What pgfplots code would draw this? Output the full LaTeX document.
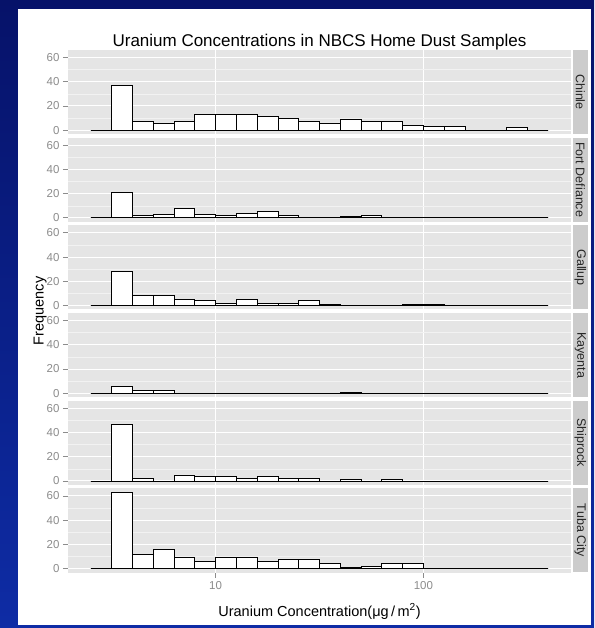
\documentclass[border=0pt]{standalone}
\usepackage{fontspec}
\setmainfont{Liberation Sans}
\usepackage{pgfplots}
\usepackage{pgfplotstable}
\pgfplotsset{compat=1.18}
\definecolor{panelgrey}{HTML}{E5E5E5}
\definecolor{gridminor}{HTML}{F2F2F2}
\definecolor{stripgrey}{HTML}{CCCCCC}
\definecolor{tickgrey}{HTML}{8C8C8C}
\definecolor{striptext}{HTML}{262626}
\definecolor{bgtop}{RGB}{6,18,105}
\definecolor{bgbot}{RGB}{14,44,165}

\pgfplotstableread{
edge Chinle Fort Gallup Kayenta Shiprock Tuba
0.4 0 0 0 0 0 0
0.5 37 21 28 6 47 63
0.6 7 2 8 2 2 12
0.7 6 3 8 2 0 16
0.8 7 8 5 0 5 9
0.9 13 3 4 0 4 6
1.0 13 2 2 0 4 9
1.1 13 4 5 0 2 9
1.2 11 5 2 0 4 6
1.3 10 2 2 0 2 8
1.4 7 0 4 0 2 8
1.5 6 0 1 0 0 4
1.6 9 1 0 1 1 1
1.7 7 2 0 0 0 2
1.8 7 0 0 0 1 4
1.9 4 0 1 0 0 4
2.0 3 0 1 0 0 0
2.1 3 0 0 0 0 0
2.2 0 0 0 0 0 0
2.3 0 0 0 0 0 0
2.4 2 0 0 0 0 0
2.5 0 0 0 0 0 0
2.6 0 0 0 0 0 0
}\datatable

\pgfplotsset{
  panel/.style={
    scale only axis, width=503pt, height=84pt,
    anchor=north west,
    xmin=0.29, xmax=2.71, ymin=-3.15, ymax=66.15,
    axis background/.style={fill=panelgrey},
    axis line style={draw=none},
    xtick={1,2}, ytick={0,20,40,60}, minor ytick={10,30,50},
    grid=both,
    major grid style={white, line width=1pt},
    minor grid style={gridminor, line width=0.5pt},
    tick align=outside, tick pos=left,
    major tick length=5pt, minor tick length=0pt,
    tick style={tickgrey, line width=0.8pt},
    tick label style={font=\fontsize{11.5}{13}\selectfont, text=tickgrey},
    /pgf/number format/assume math mode=true,
    clip=false,
  },
  bars/.style={ybar interval, fill=white, draw=black, line width=0.8pt},
  base/.style={black, line width=0.8pt},
}

\newcommand{\strip}[2]{%
  \fill[stripgrey] (572.5,#1) rectangle (588,#1-84);
  \node[rotate=-90, font=\fontsize{12.5}{14}\selectfont, text=striptext] at (580.25,#1-42) {#2};
}

\begin{document}
\begin{tikzpicture}[x=1pt,y=1pt]
\useasboundingbox (0,0) rectangle (594,628);
\shade[top color=bgtop, bottom color=bgbot] (0,0) rectangle (594,628);
\fill[white] (18,3) rectangle (591,619);

\node[anchor=base, font=\fontsize{17}{20}\selectfont] at (319.5,581.3) {Uranium Concentrations in NBCS Home Dust Samples};

\begin{axis}[panel, at={(68pt,578pt)}, xticklabels={}, xmajorticks=false]
\addplot[bars] table[x=edge, y=Chinle] {\datatable};
\addplot[base] coordinates {(0.4,0) (2.6,0)};
\end{axis}
\strip{578}{Chinle}

\begin{axis}[panel, at={(68pt,490.3pt)}, xticklabels={}, xmajorticks=false]
\addplot[bars] table[x=edge, y=Fort] {\datatable};
\addplot[base] coordinates {(0.4,0) (2.6,0)};
\end{axis}
\strip{490.3}{Fort Defiance}

\begin{axis}[panel, at={(68pt,402.6pt)}, xticklabels={}, xmajorticks=false]
\addplot[bars] table[x=edge, y=Gallup] {\datatable};
\addplot[base] coordinates {(0.4,0) (2.6,0)};
\end{axis}
\strip{402.6}{Gallup}

\begin{axis}[panel, at={(68pt,314.9pt)}, xticklabels={}, xmajorticks=false]
\addplot[bars] table[x=edge, y=Kayenta] {\datatable};
\addplot[base] coordinates {(0.4,0) (2.6,0)};
\end{axis}
\strip{314.9}{Kayenta}

\begin{axis}[panel, at={(68pt,227.2pt)}, xticklabels={}, xmajorticks=false]
\addplot[bars] table[x=edge, y=Shiprock] {\datatable};
\addplot[base] coordinates {(0.4,0) (2.6,0)};
\end{axis}
\strip{227.2}{Shiprock}

\begin{axis}[panel, at={(68pt,139.5pt)}, xticklabels={10,100}]
\addplot[bars] table[x=edge, y=Tuba] {\datatable};
\addplot[base] coordinates {(0.4,0) (2.6,0)};
\end{axis}
\strip{139.5}{Tuba City}

\node[rotate=90, anchor=base, font=\fontsize{14.5}{17}\selectfont] at (43.5,317) {Frequency};
\node[anchor=base, font=\fontsize{14.5}{17}\selectfont] at (319.5,12) {Uranium Concentration(μg\,/\,m\textsuperscript{2})};
\end{tikzpicture}
\end{document}
